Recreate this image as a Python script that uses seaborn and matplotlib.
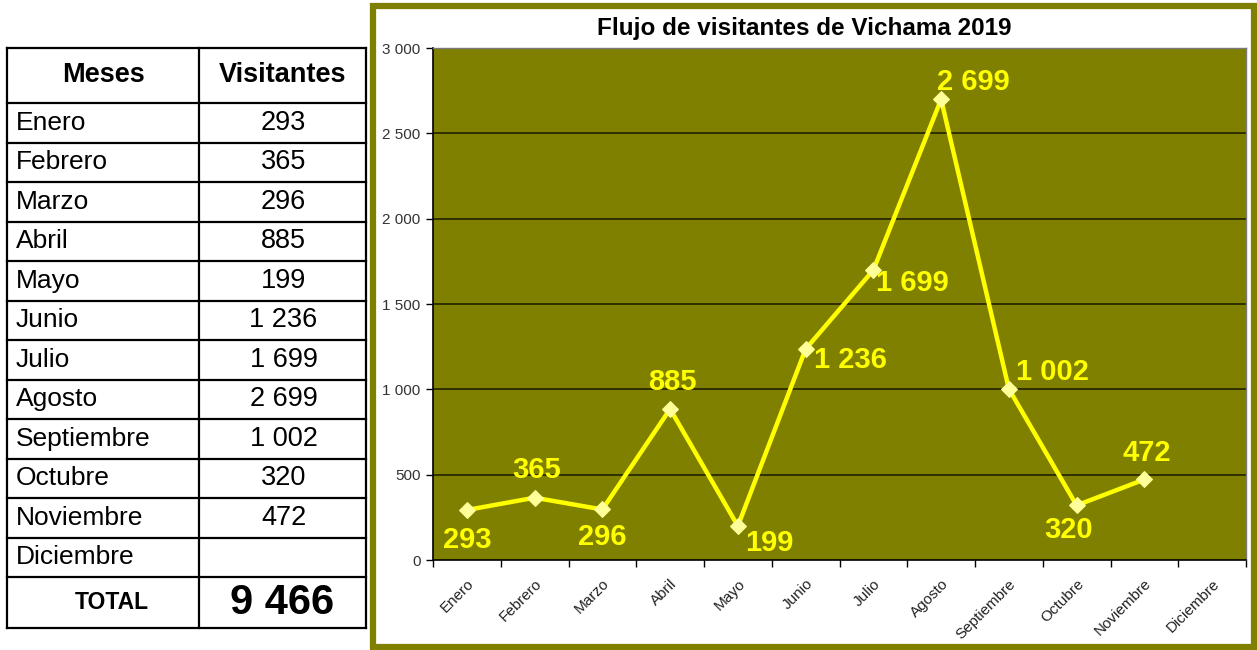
import matplotlib
matplotlib.use("Agg")
import pandas as pd
import seaborn as sns
from matplotlib import pyplot as plt
from matplotlib import patches

# datos
meses = ["Enero", "Febrero", "Marzo", "Abril", "Mayo", "Junio", "Julio",
         "Agosto", "Septiembre", "Octubre", "Noviembre", "Diciembre"]
visitantes = [293, 365, 296, 885, 199, 1236, 1699, 2699, 1002, 320, 472]
total = 9466
titulo = "Flujo de visitantes de Vichama 2019"
yticks = [0, 500, 1000, 1500, 2000, 2500, 3000]

# offsets (pixels) for the yellow labels, (dx, dy, ha)
label_pos = [(0, -30, "center"), (2, 28, "center"), (0, -28, "center"),
             (2, 27, "center"), (7, -17, "left"), (8, -11, "left"),
             (3, -13, "left"), (32, 17, "center"), (7, 17, "left"),
             (-8, -25, "center"), (2, 26, "center")]

def fmt(v):
    return f"{v:,.0f}".replace(",", " ")

sns.set_style("white")
plt.rcParams["font.family"] = ["Liberation Sans", "DejaVu Sans"]
plt.rcParams["text.color"] = "black"

olive = "#808000"
W, H = 1257, 650
fig = plt.figure(figsize=(W / 100, H / 100), dpi=100)
fig.patch.set_facecolor("white")

# chart frame
fig.patches.append(patches.Rectangle((373 / W, 3 / H), (1254 - 373) / W, (644 - 3) / H,
                                     transform=fig.transFigure, facecolor="white",
                                     edgecolor=olive, linewidth=4.5, zorder=0))

# ---- table ----
tx = fig.add_axes([0, 0, 1, 1], zorder=2)
tx.set_xlim(0, W)
tx.set_ylim(H, 0)
tx.axis("off")
tx.patch.set_alpha(0)
x0, xm, x1 = 7, 199, 366
top, hdr, row_h = 48, 103, 39.5
bottom_rows = hdr + row_h * len(meses)
bottom = 628
lw = 1.6
for y in [top, hdr] + [hdr + row_h * i for i in range(1, len(meses))] + [bottom_rows, bottom]:
    tx.plot([x0, x1], [y, y], color="black", lw=lw, solid_capstyle="projecting")
for x in [x0, xm, x1]:
    tx.plot([x, x], [top, bottom], color="black", lw=lw, solid_capstyle="projecting")
tx.text((x0 + xm) / 2, (top + hdr) / 2, "Meses", fontsize=19.5, fontweight="bold", ha="center", va="center")
tx.text((xm + x1) / 2, (top + hdr) / 2, "Visitantes", fontsize=19.5, fontweight="bold", ha="center", va="center")
for i, m in enumerate(meses):
    yc = hdr + row_h * (i + 0.5)
    tx.text(x0 + 9, yc, m, fontsize=19, ha="left", va="center")
    if i < len(visitantes):
        tx.text((xm + x1) / 2 + 1, yc, fmt(visitantes[i]), fontsize=19.5, ha="center", va="center")
tx.text((x0 + xm) / 2 + 9, (bottom_rows + bottom) / 2, "TOTAL", fontsize=16.5, fontweight="bold", ha="center", va="center")
tx.text((xm + x1) / 2, (bottom_rows + bottom) / 2, fmt(total), fontsize=30, fontweight="bold", ha="center", va="center")

# ---- chart ----
ax = fig.add_axes([433 / W, (H - 560) / H, (1246 - 433) / W, (560 - 48) / H], zorder=1)
df = pd.DataFrame({"pos": range(len(visitantes)), "visitantes": visitantes})
sns.lineplot(data=df, x="pos", y="visitantes", ax=ax, color="#ffff00", linewidth=3.2,
             marker="D", markersize=8, markerfacecolor="#ffff99", markeredgecolor="#ffff99")
ax.set_facecolor(olive)
ax.set_xlim(-0.5, len(meses) - 0.5)
ax.set_ylim(0, 3000)
ax.set_yticks(yticks)
ax.set_yticklabels([fmt(v) for v in yticks], fontsize=11, color="#333333")
for v in yticks[1:-1]:
    ax.axhline(v, color="#1a1a00", lw=1.1, zorder=0.5)
ax.set_xticks([i - 0.5 for i in range(len(meses) + 1)])
ax.set_xticklabels([])
ax.set_xticks(range(len(meses)), minor=True)
ax.set_xticklabels(meses, minor=True, rotation=45, ha="right", rotation_mode="anchor", fontsize=11, color="#222222")
ax.tick_params(axis="x", which="minor", length=0, pad=12)
ax.tick_params(axis="x", which="major", length=5, width=1, color="black", direction="out", bottom=True)
ax.tick_params(axis="y", length=5, width=1, color="black", direction="out", left=True, pad=4)
ax.set_xlabel("")
ax.set_ylabel("")
for s in ["left", "bottom"]:
    ax.spines[s].set_color("black")
    ax.spines[s].set_linewidth(1.2)
for s in ["top", "right"]:
    ax.spines[s].set_color("#7a7a7a")
    ax.spines[s].set_linewidth(1)

for i, v in enumerate(visitantes):
    dx, dy, ha = label_pos[i]
    ax.annotate(fmt(v), (i, v), xytext=(dx, dy), textcoords="offset pixels",
                ha=ha, va="center", fontsize=21, fontweight="bold", color="#ffff00")

fig.text(804 / W, (H - 28) / H, titulo, fontsize=17.5, fontweight="bold", ha="center", va="center", color="black")

fig.savefig("out.png", dpi=100)
